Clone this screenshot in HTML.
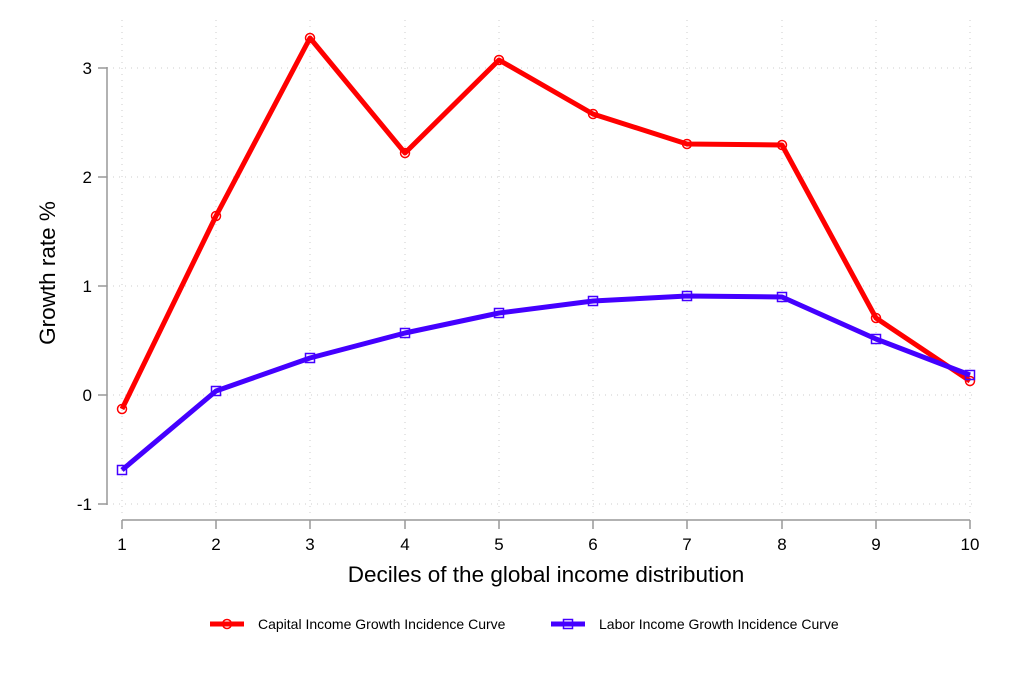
<!DOCTYPE html>
<html><head><style>body{margin:0;background:#fff}</style></head><body>
<svg width="1010" height="673" xmlns="http://www.w3.org/2000/svg" font-family="Liberation Sans, sans-serif">
<rect width="1010" height="673" fill="#fff"/>
<g stroke="#ccc" stroke-dasharray="1,5" stroke-width="1">
<line x1="107" y1="68" x2="975" y2="68"/><line x1="107" y1="177" x2="975" y2="177"/><line x1="107" y1="286" x2="975" y2="286"/><line x1="107" y1="395" x2="975" y2="395"/><line x1="107" y1="504" x2="975" y2="504"/>
<line x1="122" y1="20" x2="122" y2="515"/><line x1="216" y1="20" x2="216" y2="515"/><line x1="310" y1="20" x2="310" y2="515"/><line x1="405" y1="20" x2="405" y2="515"/><line x1="499" y1="20" x2="499" y2="515"/><line x1="593" y1="20" x2="593" y2="515"/><line x1="687" y1="20" x2="687" y2="515"/><line x1="782" y1="20" x2="782" y2="515"/><line x1="876" y1="20" x2="876" y2="515"/><line x1="970" y1="20" x2="970" y2="515"/>
</g>
<g stroke="#999" stroke-width="1.5" fill="none">
<line x1="107" y1="67" x2="107" y2="505"/>
<line x1="98" y1="68" x2="107" y2="68"/><line x1="98" y1="177" x2="107" y2="177"/><line x1="98" y1="286" x2="107" y2="286"/><line x1="98" y1="395" x2="107" y2="395"/><line x1="98" y1="504" x2="107" y2="504"/>
<line x1="122" y1="520" x2="970" y2="520"/>
<line x1="122" y1="520" x2="122" y2="529"/><line x1="216" y1="520" x2="216" y2="529"/><line x1="310" y1="520" x2="310" y2="529"/><line x1="405" y1="520" x2="405" y2="529"/><line x1="499" y1="520" x2="499" y2="529"/><line x1="593" y1="520" x2="593" y2="529"/><line x1="687" y1="520" x2="687" y2="529"/><line x1="782" y1="520" x2="782" y2="529"/><line x1="876" y1="520" x2="876" y2="529"/><line x1="970" y1="520" x2="970" y2="529"/>
</g>
<g font-size="17" fill="#000" text-anchor="end">
<text x="92" y="74">3</text><text x="92" y="183">2</text><text x="92" y="292">1</text><text x="92" y="401">0</text><text x="92" y="510">-1</text>
</g>
<g font-size="17" fill="#000" text-anchor="middle">
<text x="122" y="550">1</text><text x="216" y="550">2</text><text x="310" y="550">3</text><text x="405" y="550">4</text><text x="499" y="550">5</text><text x="593" y="550">6</text><text x="687" y="550">7</text><text x="782" y="550">8</text><text x="876" y="550">9</text><text x="970" y="550">10</text>
<text x="546" y="582" font-size="22.5">Deciles of the global income distribution</text>
<text transform="translate(55,273) rotate(-90)" font-size="22.5">Growth rate %</text>
</g>
<polyline fill="none" stroke="#ff0000" stroke-width="5" stroke-linejoin="round" points="122,409 216,216 310,38 405,153 499,60 593,114 687,144 782,145 876,318 970,381"/>
<g fill="none" stroke="#ff0000" stroke-width="1.5">
<circle cx="122" cy="409" r="4.5"/><circle cx="216" cy="216" r="4.5"/><circle cx="310" cy="38" r="4.5"/><circle cx="405" cy="153" r="4.5"/><circle cx="499" cy="60" r="4.5"/><circle cx="593" cy="114" r="4.5"/><circle cx="687" cy="144" r="4.5"/><circle cx="782" cy="145" r="4.5"/><circle cx="876" cy="318" r="4.5"/><circle cx="970" cy="381" r="4.5"/>
</g>
<polyline fill="none" stroke="#4400ff" stroke-width="5" stroke-linejoin="round" points="122,470 216,391 310,358 405,333 499,313 593,301 687,296 782,297 876,339 970,375"/>
<g fill="none" stroke="#4400ff" stroke-width="1.5">
<rect x="117.5" y="465.5" width="9" height="9"/><rect x="211.5" y="386.5" width="9" height="9"/><rect x="305.5" y="353.5" width="9" height="9"/><rect x="400.5" y="328.5" width="9" height="9"/><rect x="494.5" y="308.5" width="9" height="9"/><rect x="588.5" y="296.5" width="9" height="9"/><rect x="682.5" y="291.5" width="9" height="9"/><rect x="777.5" y="292.5" width="9" height="9"/><rect x="871.5" y="334.5" width="9" height="9"/><rect x="965.5" y="370.5" width="9" height="9"/>
</g>
<line x1="210" y1="624" x2="244" y2="624" stroke="#ff0000" stroke-width="5"/>
<circle cx="227" cy="624" r="4.5" fill="none" stroke="#ff0000" stroke-width="1.5"/>
<text x="258" y="629" font-size="14">Capital Income Growth Incidence Curve</text>
<line x1="551" y1="624" x2="585" y2="624" stroke="#4400ff" stroke-width="5"/>
<rect x="563.5" y="619.5" width="9" height="9" fill="none" stroke="#4400ff" stroke-width="1.5"/>
<text x="599" y="629" font-size="14">Labor Income Growth Incidence Curve</text>
</svg>
</body></html>
